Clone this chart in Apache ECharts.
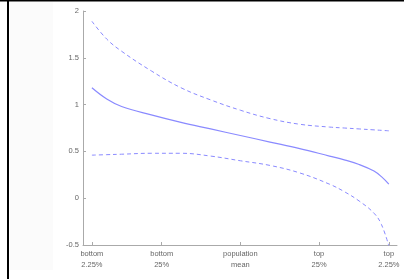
<!DOCTYPE html>
<html>
<head>
<meta charset="utf-8">
<script src="https://cdn.jsdelivr.net/npm/echarts@6/dist/echarts.min.js"></script>
<style>
  html, body { margin: 0; padding: 0; background: #fff; }
  #chart { width: 404px; height: 279px; }
</style>
</head>
<body>
<div id="chart"></div>
<script>
// x positions of the category ticks and their labels
let tickPos = [-1, -0.53, 0, 0.53, 1];
let tickLabels = ['bottom\n2.25%', 'bottom\n25%', 'population\nmean', 'top\n25%', 'top\n2.25%'];

// sample positions along the x axis
let xs = [-1, -0.9, -0.8, -0.6, -0.4, -0.2, 0, 0.2, 0.4, 0.6, 0.7, 0.8, 0.9, 0.95, 1];

let meanLine = [1.18, 1.06, 0.98, 0.89, 0.81, 0.74, 0.67, 0.60, 0.53, 0.45, 0.41, 0.36, 0.29, 0.23, 0.15];
let upperLine = [1.89, 1.70, 1.57, 1.36, 1.18, 1.05, 0.94, 0.85, 0.79, 0.76, 0.75, 0.74, 0.73, 0.725, 0.72];
let lowerLine = [0.46, 0.465, 0.47, 0.48, 0.48, 0.45, 0.40, 0.35, 0.27, 0.15, 0.07, -0.03, -0.16, -0.28, -0.51];

function pairs(ys) {
  return xs.map(function (x, i) { return [x, ys[i]]; });
}

let chart = echarts.init(document.getElementById('chart'));
let lineColor = '#8a8aff';

let option = {
  animation: false,
  backgroundColor: '#fff',
  graphic: [
    { type: 'rect', shape: { x: 10, y: 2, width: 43, height: 268 }, style: { fill: '#fbfbfb' }, z: -10 },
    { type: 'rect', shape: { x: 0, y: 0, width: 404, height: 1.5 }, style: { fill: '#000' } },
    { type: 'rect', shape: { x: 7, y: 0, width: 2, height: 279 }, style: { fill: '#000' } }
  ],
  grid: {
    left: 83,
    right: 7,
    top: 11,
    bottom: 34
  },
  xAxis: {
    type: 'value',
    min: -1.06,
    max: 1.055,
    splitLine: { show: false },
    axisLine: { onZero: false, lineStyle: { color: '#aaa', width: 1 } },
    axisTick: {
      inside: true,
      length: 3,
      customValues: tickPos,
      lineStyle: { color: '#aaa' }
    },
    axisLabel: {
      customValues: tickPos,
      formatter: function (v) {
        let i = tickPos.indexOf(v);
        return i >= 0 ? tickLabels[i] : '';
      },
      color: '#666',
      fontSize: 7.5,
      lineHeight: 11,
      margin: 3,
      fontFamily: 'Liberation Sans'
    }
  },
  yAxis: {
    type: 'value',
    min: -0.5,
    max: 2,
    interval: 0.5,
    splitLine: { show: false },
    axisLine: { show: true, onZero: false, lineStyle: { color: '#aaa', width: 1 } },
    axisTick: { show: true, inside: true, length: 3, lineStyle: { color: '#aaa' } },
    axisLabel: {
      color: '#666',
      fontSize: 7.5,
      margin: 4,
      fontFamily: 'Liberation Sans'
    }
  },
  series: [
    {
      type: 'line',
      data: pairs(upperLine),
      smooth: 0.4,
      showSymbol: false,
      lineStyle: { color: lineColor, width: 1, type: [4, 3] }
    },
    {
      type: 'line',
      data: pairs(meanLine),
      smooth: 0.4,
      showSymbol: false,
      lineStyle: { color: lineColor, width: 1.2 }
    },
    {
      type: 'line',
      data: pairs(lowerLine),
      smooth: 0.4,
      showSymbol: false,
      lineStyle: { color: lineColor, width: 1, type: [4, 3] }
    }
  ]
};

chart.setOption(option);
</script>
</body>
</html>
